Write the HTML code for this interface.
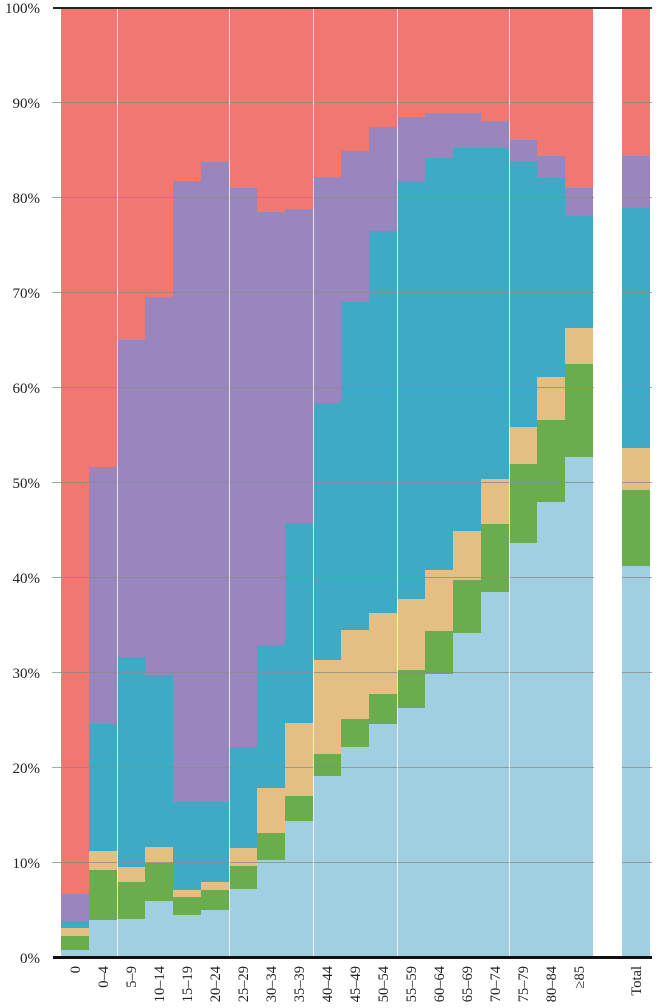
<!DOCTYPE html>
<html><head><meta charset="utf-8"><style>
body{margin:0;background:#fff}
svg{display:block}
text{font-family:"Liberation Serif",serif;fill:#222}
</style></head><body>
<svg id="s" width="662" height="1008" viewBox="0 0 662 1008" xmlns="http://www.w3.org/2000/svg">
<g id="bars"></g>
<g stroke="#8a8a8a" stroke-width="1" opacity="0.75">
<line x1="52" x2="652" y1="102.5" y2="102.5"/><line x1="52" x2="652" y1="197.5" y2="197.5"/>
<line x1="52" x2="652" y1="292.5" y2="292.5"/><line x1="52" x2="652" y1="387.5" y2="387.5"/>
<line x1="52" x2="652" y1="482.5" y2="482.5"/><line x1="52" x2="652" y1="577.5" y2="577.5"/>
<line x1="52" x2="652" y1="672.5" y2="672.5"/><line x1="52" x2="652" y1="767.5" y2="767.5"/>
<line x1="52" x2="652" y1="862.5" y2="862.5"/>
</g>
<g stroke="#fff" stroke-width="1" opacity="0.75">
<line x1="117.5" x2="117.5" y1="9" y2="956"/><line x1="229.5" x2="229.5" y1="9" y2="956"/>
<line x1="313.5" x2="313.5" y1="9" y2="956"/><line x1="397.5" x2="397.5" y1="9" y2="956"/>
<line x1="509.5" x2="509.5" y1="9" y2="956"/>
</g>
<rect x="594" y="6" width="28" height="952" fill="#fff"/>
<line x1="53" x2="652" y1="8" y2="8" stroke="#222" stroke-width="2"/>
<line x1="53" x2="652" y1="957.5" y2="957.5" stroke="#111" stroke-width="3"/>
<g font-size="15" text-anchor="end">
<text x="40" y="13">100%</text><text x="40" y="108">90%</text><text x="40" y="203">80%</text>
<text x="40" y="298">70%</text><text x="40" y="393">60%</text><text x="40" y="488">50%</text>
<text x="40" y="583">40%</text><text x="40" y="678">30%</text><text x="40" y="773">20%</text>
<text x="40" y="868">10%</text><text x="40" y="963">0%</text>
</g>
<g id="xl" font-size="14.5" text-anchor="end"></g>
</svg>
<script>
var ns="http://www.w3.org/2000/svg";
var d=[
[950,936,928,921,894],[920,870,851,724,467],[919,882,867,657,340],[901,863,847,675,297],
[915,897,890,802,181],[910,890,882,802,162],[889,866,848,747,188],[860,833,788,645,212],
[821,796,723,523,209],[776,754,660,403,177],[747,719,630,302,151],[724,694,613,231,127],
[708,670,599,181,117],[674,631,570,158,113],[633,580,531,148,113],[592,524,479,148,121],
[543,464,427,162,140],[502,420,377,178,156],[457,364,328,216,188],[566,490,448,208,156]];
var labs=["0","0–4","5–9","10–14","15–19","20–24","25–29","30–34","35–39","40–44","45–49","50–54","55–59","60–64","65–69","70–74","75–79","80–84","≥85","Total"];
var cols=["#9fcfe0","#6aad4f","#e4bf83","#3eaac3","#9a86be"];
var g=document.getElementById('bars'),xl=document.getElementById('xl');
function r(x,y,w,h,c){var e=document.createElementNS(ns,'rect');e.setAttribute('x',x);e.setAttribute('y',y);e.setAttribute('width',w);e.setAttribute('height',h);e.setAttribute('fill',c);g.appendChild(e);}
for(var i=0;i<20;i++){
 var x=i<19?61+28*i:622,w=28;
 r(x,8,w,949,"#f07870");
 for(var k=4;k>=0;k--){r(x,d[i][k],w,957-d[i][k],cols[k]);}
 var t=document.createElementNS(ns,'text');var cx=x+w/2+5;
 t.setAttribute('transform','translate('+cx+',966) rotate(-90)');t.textContent=labs[i];xl.appendChild(t);
}
</script>
</body></html>
